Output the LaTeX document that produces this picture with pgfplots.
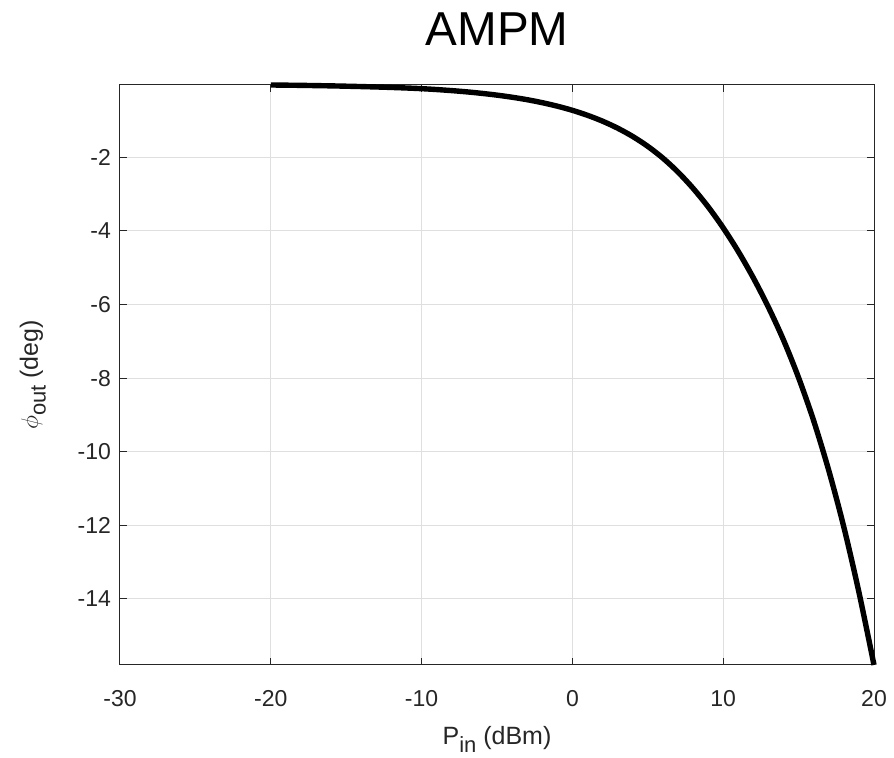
\documentclass[border=0pt]{standalone}
\usepackage{pgfplots}
\pgfplotsset{compat=1.18}
\usepackage{fontspec}
\setmainfont{Liberation Sans}
\definecolor{axgray}{RGB}{38,38,38}
\definecolor{gridgray}{RGB}{223,223,223}
\newcommand{\sub}[1]{\raisebox{-0.6ex}{\fontsize{11}{12}\selectfont #1}}
\begin{document}
\begin{tikzpicture}
\begin{axis}[
  scale only axis,
  width=377pt, height=290pt,
  xmin=-30, xmax=20,
  ymin=-15.8, ymax=-0.03,
  xtick={-30,-20,...,20},
  ytick={-14,-12,...,-2},
  grid=major,
  major grid style={gridgray, line width=0.5pt},
  axis line style={axgray, line width=0.5pt},
  every tick/.style={axgray, line width=0.5pt},
  tick align=inside,
  xtick pos=both, ytick pos=both,
  major tick length=3.6pt,
  /pgf/number format/assume math mode=true,
  ticklabel style={font=\fontsize{11.5}{13}\selectfont, text=axgray},
  xticklabel style={yshift=-9pt},
  yticklabel style={xshift=-1pt},
  label style={font=\fontsize{12.5}{14}\selectfont, text=axgray},
  xlabel={P\sub{in} (dBm)},
  ylabel={$\phi$\sub{out} (deg)},
  xlabel style={yshift=-3pt},
  ylabel style={yshift=9pt},
  title={AMPM},
  title style={font=\fontsize{23.8}{26}\selectfont, yshift=10pt},
  clip=false,
]
\addplot[black, line width=2.7pt, smooth] coordinates {
(-20,-0.030) (-19,-0.035) (-18,-0.040) (-17,-0.047) (-16,-0.054)
(-15,-0.063) (-14,-0.073) (-13,-0.084) (-12,-0.097) (-11,-0.112)
(-10,-0.130) (-9,-0.154) (-8,-0.183) (-7,-0.217) (-6,-0.258)
(-5,-0.306) (-4,-0.363) (-3,-0.430) (-2,-0.511) (-1,-0.606)
(0,-0.719) (1,-0.854) (2,-1.014) (3,-1.204) (4,-1.430)
(5,-1.699) (6,-2.018) (7,-2.397) (8,-2.838) (9,-3.342)
(10,-3.914) (11,-4.557) (12,-5.276) (13,-6.074) (14,-6.966)
(15,-7.990) (16,-9.160) (17,-10.51) (18,-12.05) (19,-13.82)
(20,-15.80)
};
\end{axis}
\pgfresetboundingbox
\path[use as bounding box] ([shift={(-60pt,-46.5pt)}]current axis.south west) rectangle ([shift={(10pt,42.5pt)}]current axis.north east);
\end{tikzpicture}
\end{document}
